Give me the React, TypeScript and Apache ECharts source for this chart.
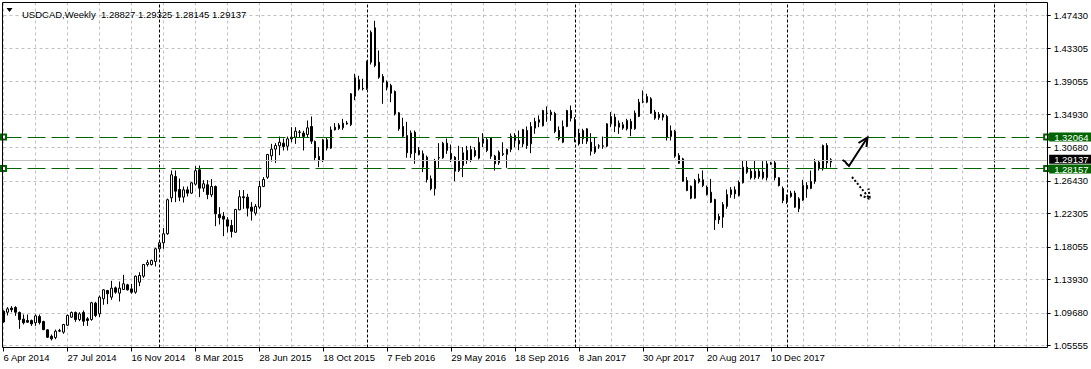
import React, { useEffect, useRef } from "react";
import * as echarts from "echarts";

// ---------- categories (weekly bars, plus empty future slots) ----------
const MONTHS = ["Jan", "Feb", "Mar", "Apr", "May", "Jun", "Jul", "Aug", "Sep", "Oct", "Nov", "Dec"];
const START_UTC = Date.UTC(2014, 3, 6);
const TOTAL_SLOTS = 262;
const categories: string[] = Array.from({ length: TOTAL_SLOTS }, (_, i) => {
  const d = new Date(START_UTC + i * 7 * 86400000);
  return `${d.getUTCDate()} ${MONTHS[d.getUTCMonth()]} ${d.getUTCFullYear()}`;
});
const categoryYears: number[] = Array.from({ length: TOTAL_SLOTS }, (_, i) =>
  new Date(START_UTC + i * 7 * 86400000).getUTCFullYear()
);

// ---------- tick labels ----------
const xTickLabels = [
  "6 Apr 2014", "27 Jul 2014", "16 Nov 2014", "8 Mar 2015", "28 Jun 2015", "18 Oct 2015",
  "7 Feb 2016", "29 May 2016", "18 Sep 2016", "8 Jan 2017", "30 Apr 2017", "20 Aug 2017", "10 Dec 2017",
];
const yTickValues = [1.05555, 1.0968, 1.1393, 1.18055, 1.22305, 1.2643, 1.3068, 1.3493, 1.39055, 1.43305, 1.4743];

// ---------- OHLC (USDCAD weekly) ----------
const open = [
  1.0991, 1.0978, 1.1030, 1.1038, 1.0974, 1.0890, 1.0873, 1.0873, 1.0844, 1.0923,
  1.0859, 1.0754, 1.0673, 1.0656, 1.0737, 1.0725, 1.0813, 1.0915, 1.0974, 1.0885,
  1.0974, 1.0894, 1.0885, 1.1093, 1.0957, 1.1148, 1.1253, 1.1169, 1.1287, 1.1220,
  1.1266, 1.1325, 1.1274, 1.1232, 1.1359, 1.1435, 1.1583, 1.1583, 1.1621, 1.1783,
  1.1859, 1.1973, 1.2430, 1.2700, 1.2535, 1.2438, 1.2531, 1.2489, 1.2603, 1.2785,
  1.2552, 1.2595, 1.2468, 1.2573, 1.2218, 1.2197, 1.2150, 1.2078, 1.1993, 1.2277,
  1.2443, 1.2438, 1.2311, 1.2235, 1.2311, 1.2573, 1.2691, 1.2962, 1.3047, 1.3089,
  1.3123, 1.3085, 1.3199, 1.3199, 1.3260, 1.3250, 1.3233, 1.3335, 1.3144, 1.2954,
  1.2903, 1.3166, 1.3060, 1.3292, 1.3309, 1.3318, 1.3366, 1.3357, 1.3719, 1.3927,
  1.3818, 1.3813, 1.4150, 1.4587, 1.4150, 1.3969, 1.3897, 1.3855, 1.3779, 1.3508,
  1.3335, 1.3220, 1.2988, 1.3262, 1.3030, 1.2988, 1.2945, 1.2671, 1.2544, 1.2935,
  1.2937, 1.3123, 1.2992, 1.2945, 1.2776, 1.2839, 1.3030, 1.2903, 1.3030, 1.2933,
  1.3123, 1.3030, 1.3186, 1.2958, 1.2874, 1.2990, 1.2980, 1.3043, 1.3220, 1.3157,
  1.3114, 1.3284, 1.3114, 1.3314, 1.3419, 1.3343, 1.3496, 1.3483, 1.3500, 1.3284,
  1.3135, 1.3335, 1.3538, 1.3419, 1.3250, 1.3178, 1.3305, 1.3135, 1.3009, 1.3085,
  1.3089, 1.3085, 1.3369, 1.3453, 1.3326, 1.3356, 1.3305, 1.3398, 1.3305, 1.3462,
  1.3643, 1.3643, 1.3686, 1.3517, 1.3445, 1.3487, 1.3462, 1.3207, 1.3271, 1.2966,
  1.2924, 1.2649, 1.2577, 1.2425, 1.2632, 1.2658, 1.2565, 1.2501, 1.2408, 1.2193,
  1.2184, 1.2320, 1.2472, 1.2531, 1.2459, 1.2620, 1.2818, 1.2768, 1.2684, 1.2768,
  1.2755, 1.2684, 1.2856, 1.2874, 1.2684, 1.2548, 1.2396, 1.2446, 1.2489, 1.2290,
  1.2400, 1.2586, 1.2548, 1.2637, 1.2800, 1.2797, 1.3093, 1.28827,
];
const close = [
  1.0854, 1.1021, 1.1009, 1.0978, 1.0885, 1.0844, 1.0851, 1.0830, 1.0932, 1.0847,
  1.0757, 1.0660, 1.0640, 1.0737, 1.0746, 1.0822, 1.0937, 1.0974, 1.0885, 1.0957,
  1.0864, 1.0873, 1.1098, 1.0937, 1.1169, 1.1262, 1.1212, 1.1283, 1.1232, 1.1283,
  1.1338, 1.1262, 1.1232, 1.1435, 1.1444, 1.1583, 1.1608, 1.1634, 1.1783, 1.1859,
  1.1973, 1.2405, 1.2722, 1.2514, 1.2438, 1.2531, 1.2489, 1.2620, 1.2773, 1.2552,
  1.2608, 1.2472, 1.2573, 1.2226, 1.2176, 1.2159, 1.2070, 1.2002, 1.2281, 1.2443,
  1.2430, 1.2298, 1.2260, 1.2320, 1.2573, 1.2662, 1.2979, 1.3047, 1.3093, 1.3135,
  1.3080, 1.3178, 1.3178, 1.3275, 1.3265, 1.3208, 1.3318, 1.3148, 1.2937, 1.2903,
  1.3166, 1.3060, 1.3292, 1.3326, 1.3352, 1.3377, 1.3378, 1.3750, 1.3953, 1.3813,
  1.3813, 1.4163, 1.4531, 1.4109, 1.3960, 1.3897, 1.3833, 1.3757, 1.3496, 1.3305,
  1.3212, 1.3001, 1.3254, 1.3001, 1.2980, 1.2819, 1.2662, 1.2544, 1.2903, 1.2940,
  1.3123, 1.3030, 1.2924, 1.2768, 1.2894, 1.3001, 1.2903, 1.3043, 1.2966, 1.3135,
  1.3178, 1.3169, 1.2958, 1.2861, 1.3009, 1.2980, 1.3043, 1.3212, 1.3157, 1.3114,
  1.3296, 1.3093, 1.3335, 1.3398, 1.3389, 1.3538, 1.3500, 1.3517, 1.3271, 1.3178,
  1.3335, 1.3538, 1.3440, 1.3220, 1.3114, 1.3284, 1.3148, 1.3021, 1.3080, 1.3089,
  1.3085, 1.3369, 1.3462, 1.3339, 1.3377, 1.3314, 1.3411, 1.3305, 1.3504, 1.3643,
  1.3648, 1.3715, 1.3504, 1.3440, 1.3487, 1.3453, 1.3199, 1.3280, 1.2958, 1.2868,
  1.2640, 1.2522, 1.2425, 1.2649, 1.2671, 1.2586, 1.2472, 1.2374, 1.2150, 1.2150,
  1.2345, 1.2472, 1.2531, 1.2480, 1.2628, 1.2818, 1.2755, 1.2684, 1.2768, 1.2700,
  1.2684, 1.2861, 1.2874, 1.2684, 1.2586, 1.2396, 1.2446, 1.2489, 1.2311, 1.2417,
  1.2586, 1.2543, 1.2637, 1.2882, 1.2882, 1.3093, 1.2874, 1.29137,
];
const low = [
  1.0845, 1.0937, 1.0978, 1.0932, 1.0767, 1.0822, 1.0844, 1.0805, 1.0805, 1.0822,
  1.0750, 1.0650, 1.0619, 1.0635, 1.0725, 1.0704, 1.0805, 1.0906, 1.0856, 1.0864,
  1.0805, 1.0805, 1.0870, 1.0915, 1.0915, 1.1072, 1.1080, 1.1135, 1.1212, 1.1114,
  1.1260, 1.1253, 1.1212, 1.1212, 1.1308, 1.1414, 1.1558, 1.1570, 1.1558, 1.1758,
  1.1783, 1.1960, 1.2374, 1.2374, 1.2387, 1.2370, 1.2446, 1.2480, 1.2586, 1.2438,
  1.2505, 1.2412, 1.2438, 1.2070, 1.2091, 1.1943, 1.1990, 1.1926, 1.1985, 1.2273,
  1.2290, 1.2193, 1.2141, 1.2205, 1.2290, 1.2565, 1.2670, 1.2890, 1.2873, 1.2970,
  1.3030, 1.3030, 1.3135, 1.3114, 1.3199, 1.3030, 1.3199, 1.3114, 1.2895, 1.2818,
  1.2883, 1.3030, 1.3051, 1.3284, 1.3292, 1.3292, 1.3357, 1.3340, 1.3668, 1.3792,
  1.3792, 1.3800, 1.4121, 1.4087, 1.3940, 1.3622, 1.3792, 1.3643, 1.3475, 1.3280,
  1.3187, 1.2937, 1.2937, 1.2861, 1.2967, 1.2755, 1.2624, 1.2523, 1.2459, 1.2810,
  1.2924, 1.2987, 1.2882, 1.2641, 1.2756, 1.2692, 1.2861, 1.2882, 1.2945, 1.2916,
  1.3072, 1.3009, 1.2924, 1.2776, 1.2848, 1.2960, 1.2810, 1.3009, 1.3072, 1.3034,
  1.3072, 1.3051, 1.2996, 1.3242, 1.3326, 1.3335, 1.3394, 1.3407, 1.3250, 1.3157,
  1.3123, 1.3326, 1.3398, 1.3135, 1.3093, 1.3114, 1.3114, 1.2966, 1.2988, 1.3051,
  1.3051, 1.3072, 1.3326, 1.3263, 1.3242, 1.3293, 1.3284, 1.3212, 1.3293, 1.3453,
  1.3630, 1.3630, 1.3496, 1.3419, 1.3419, 1.3411, 1.3157, 1.3157, 1.2937, 1.2861,
  1.2637, 1.2514, 1.2412, 1.2418, 1.2611, 1.2565, 1.2459, 1.2362, 1.2023, 1.2099,
  1.2049, 1.2290, 1.2430, 1.2418, 1.2446, 1.2611, 1.2734, 1.2662, 1.2662, 1.2671,
  1.2662, 1.2650, 1.2848, 1.2650, 1.2573, 1.2362, 1.2353, 1.2430, 1.2303, 1.2248,
  1.2391, 1.2430, 1.2539, 1.2607, 1.2776, 1.2776, 1.2797, 1.28145,
];
const high = [
  1.1000, 1.1042, 1.1054, 1.1054, 1.0987, 1.0949, 1.0949, 1.0885, 1.0949, 1.0949,
  1.0870, 1.0760, 1.0695, 1.0757, 1.0767, 1.0830, 1.0949, 1.0987, 1.0987, 1.0978,
  1.1000, 1.0915, 1.1110, 1.1110, 1.1190, 1.1270, 1.1262, 1.1376, 1.1304, 1.1367,
  1.1452, 1.1338, 1.1338, 1.1444, 1.1486, 1.1591, 1.1642, 1.1646, 1.1795, 1.1888,
  1.2044, 1.2420, 1.2776, 1.2776, 1.2674, 1.2573, 1.2573, 1.2627, 1.2831, 1.2839,
  1.2654, 1.2654, 1.2667, 1.2586, 1.2311, 1.2248, 1.2184, 1.2150, 1.2290, 1.2527,
  1.2527, 1.2480, 1.2375, 1.2350, 1.2646, 1.2692, 1.2987, 1.3114, 1.3123, 1.3207,
  1.3182, 1.3207, 1.3326, 1.3326, 1.3290, 1.3280, 1.3411, 1.3461, 1.3157, 1.3072,
  1.3178, 1.3199, 1.3335, 1.3377, 1.3377, 1.3432, 1.3405, 1.3760, 1.4004, 1.3979,
  1.3940, 1.4170, 1.4553, 1.4676, 1.4299, 1.3999, 1.3918, 1.3876, 1.3792, 1.3517,
  1.3445, 1.3394, 1.3284, 1.3284, 1.3072, 1.3030, 1.2966, 1.2713, 1.2924, 1.3123,
  1.3140, 1.3182, 1.3106, 1.2958, 1.3089, 1.3072, 1.3089, 1.3089, 1.3072, 1.3199,
  1.3250, 1.3199, 1.3199, 1.2975, 1.3030, 1.3135, 1.3055, 1.3246, 1.3250, 1.3284,
  1.3305, 1.3335, 1.3390, 1.3445, 1.3474, 1.3546, 1.3589, 1.3546, 1.3521, 1.3335,
  1.3411, 1.3546, 1.3601, 1.3453, 1.3305, 1.3305, 1.3314, 1.3250, 1.3199, 1.3110,
  1.3207, 1.3377, 1.3517, 1.3496, 1.3411, 1.3390, 1.3432, 1.3432, 1.3538, 1.3685,
  1.3792, 1.3750, 1.3707, 1.3546, 1.3517, 1.3504, 1.3483, 1.3347, 1.3292, 1.2996,
  1.2937, 1.2692, 1.2586, 1.2670, 1.2734, 1.2776, 1.2586, 1.2670, 1.2418, 1.2226,
  1.2375, 1.2535, 1.2565, 1.2573, 1.2649, 1.2908, 1.2908, 1.2797, 1.2900, 1.2797,
  1.2895, 1.2908, 1.2886, 1.2908, 1.2692, 1.2573, 1.2472, 1.2519, 1.2519, 1.2438,
  1.2658, 1.2628, 1.2776, 1.2924, 1.2908, 1.3106, 1.3123, 1.29325,
];

// ---------- horizontal lines ----------
const bidPrice = 1.29137;
const levelLines = [1.32064, 1.28157];
const titleText = "USDCAD,Weekly  1.28827 1.29325 1.28145 1.29137";

const FONT = "'Liberation Sans', Arial, sans-serif";
const GREEN = "#006400";

export default function App() {
  const ref = useRef<HTMLDivElement>(null);

  useEffect(() => {
    if (!ref.current) return;
    const chart = echarts.init(ref.current, undefined, { renderer: "svg" });

    const candleData = open.map((o, i) => [o, close[i], low[i], high[i]]);
    const yearStarts: number[] = [];
    for (let i = 1; i < TOTAL_SLOTS; i++) {
      if (categoryYears[i] !== categoryYears[i - 1]) yearStarts.push(i);
    }
    // axis range: ticks sit 13px below the top and 2px above the bottom of the frame
    const pxPerUnit = (yTickValues[yTickValues.length - 1] - yTickValues[0]) / 330;
    const yMax = yTickValues[yTickValues.length - 1] + 13 * pxPerUnit;
    const yMin = yTickValues[0] - 2 * pxPerUnit;
    const lastLabelIdx = (xTickLabels.length - 1) * 16;

    const tagLabel = (text: string, bg: string, offsetY: number) => ({
      show: true,
      position: "end",
      distance: 2.5,
      formatter: text,
      color: "#fff",
      backgroundColor: bg,
      padding: [0, 5, 0, 5],
      lineHeight: 9,
      fontSize: 9.5,
      fontFamily: FONT,
      offset: [0, offsetY],
    });

    const option: any = {
      animation: false,
      backgroundColor: "#ffffff",
      title: {
        text: titleText,
        left: 17,
        top: 4,
        textStyle: { fontSize: 9.5, fontWeight: "normal", color: "#000", fontFamily: FONT },
      },
      grid: { left: 3.5, right: 43.5, top: 2.5, bottom: 21.5, containLabel: false },
      xAxis: {
        type: "category",
        data: categories,
        boundaryGap: false,
        axisLine: { show: false },
        axisTick: {
          show: true,
          length: 4,
          interval: (idx: number) => idx % 16 === 0 && idx <= lastLabelIdx,
          lineStyle: { color: "#000", width: 1 },
        },
        axisLabel: {
          show: true,
          interval: (idx: number) => idx % 16 === 0 && idx <= lastLabelIdx,
          formatter: (_v: string, idx: number) => xTickLabels[idx / 16] ?? "",
          align: "left",
          margin: 5,
          color: "#000",
          fontSize: 9.5,
          fontFamily: FONT,
        },
        splitLine: {
          show: true,
          interval: (idx: number) => idx % 8 === 0,
          lineStyle: { color: "#c0c0c0", type: [3, 3], width: 1 },
        },
      },
      yAxis: {
        type: "value",
        position: "right",
        min: yMin,
        max: yMax,
        axisLine: { show: false },
        axisTick: {
          show: true,
          length: 4,
          customValues: yTickValues,
          lineStyle: { color: "#000" },
        },
        axisLabel: {
          show: true,
          customValues: yTickValues,
          formatter: (v: number) => v.toFixed(5),
          margin: 7,
          color: "#000",
          fontSize: 9.5,
          fontFamily: FONT,
        },
        splitLine: {
          show: true,
          lineStyle: { color: "#c0c0c0", type: [3, 3], width: 1 },
        },
      },
      series: [
        {
          type: "line",
          data: [],
          z: 1,
          silent: true,
          markLine: {
            silent: true,
            symbol: "none",
            label: { show: false },
            lineStyle: { color: "#000", type: [3, 2], width: 1 },
            data: yearStarts.map((i) => ({ xAxis: categories[i] })),
          },
        },
        {
          type: "candlestick",
          data: candleData,
          barWidth: 2,
          z: 3,
          silent: true,
          itemStyle: {
            color: "#ffffff",
            color0: "#000000",
            borderColor: "#000000",
            borderColor0: "#000000",
            borderWidth: 1,
          },
          markLine: {
            silent: true,
            symbol: "none",
            lineStyle: { color: "#c0c0c0", type: "solid", width: 1 },
            data: [{ yAxis: bidPrice, label: tagLabel(bidPrice.toFixed(5), "#000", -1.5) }],
          },
        },
        {
          type: "line",
          data: [],
          z: 4,
          silent: true,
          markLine: {
            silent: true,
            symbol: ["emptyRect", "emptyRect"],
            symbolSize: 5,
            lineStyle: { color: GREEN, type: [18, 6], width: 1 },
            data: levelLines.map((v) => ({
              yAxis: v,
              label: tagLabel(v.toFixed(5), GREEN, v < bidPrice ? 0.5 : 0),
            })),
          },
        },
      ],
      graphic: [
        {
          type: "rect",
          silent: true,
          z: 100,
          shape: { x: 2.5, y: 2.5, width: 1045, height: 345 },
          style: { fill: "none", stroke: "#000", lineWidth: 1 },
        },
        {
          type: "polygon",
          silent: true,
          z: 100,
          shape: { points: [[6.5, 8], [12.5, 8], [9.5, 12]] },
          style: { fill: "#000" },
        },
        // up arrow (check-mark shaped)
        {
          type: "polyline",
          silent: true,
          z: 100,
          shape: { points: [[842.5, 160], [845, 161.5], [847, 164], [849, 166], [858, 152], [867.5, 137.5]] },
          style: { stroke: "#000", lineWidth: 2, fill: "none" },
        },
        {
          type: "polyline",
          silent: true,
          z: 100,
          shape: { points: [[858.5, 143], [867.5, 137.5], [866.5, 147]] },
          style: { stroke: "#000", lineWidth: 2, fill: "none" },
        },
        // dotted down arrow
        {
          type: "polyline",
          silent: true,
          z: 100,
          shape: { points: [[852, 177], [870, 199]] },
          style: { stroke: "#000", lineWidth: 2, lineDash: [2, 2], fill: "none" },
        },
        {
          type: "polyline",
          silent: true,
          z: 100,
          shape: { points: [[860, 195], [870, 199], [868.5, 188.5]] },
          style: { stroke: "#000", lineWidth: 2, lineDash: [2, 2], fill: "none" },
        },
      ],
    };

    chart.setOption(option);
    return () => chart.dispose();
  }, []);

  return (
    <div
      ref={ref}
      style={{ position: "fixed", left: 0, top: 0, width: 1091, height: 369, background: "#fff" }}
    />
  );
}
